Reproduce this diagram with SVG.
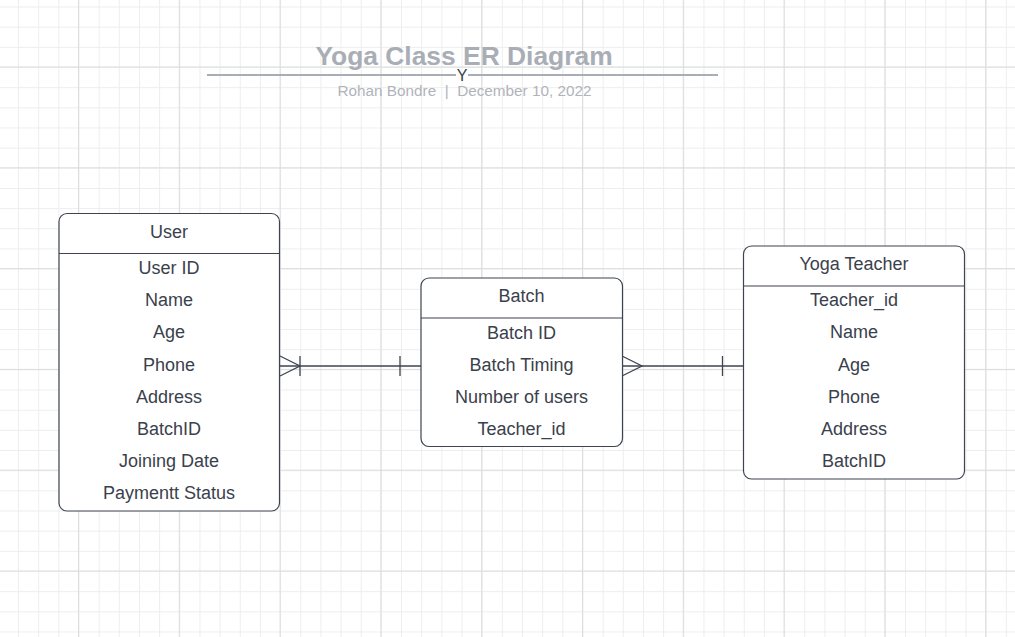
<svg xmlns="http://www.w3.org/2000/svg" width="1015" height="637" viewBox="0 0 1015 637">
<defs>
<pattern id="minor" patternUnits="userSpaceOnUse" x="78.5" y="67" width="20.16" height="20.16">
<path d="M0 0.5H20.16M0.5 0V20.16" fill="none" stroke="#ededed" stroke-width="1"/>
</pattern>
<pattern id="major" patternUnits="userSpaceOnUse" x="78" y="66.5" width="100.8" height="100.8">
<path d="M0 0.5H100.8M0.5 0V100.8" fill="none" stroke="#dcdcdc" stroke-width="1"/>
</pattern>
</defs>
<style>
.box{fill:#ffffff;stroke:#3d4450;stroke-width:1.2}
.div{stroke:#3d4450;stroke-width:1.2}
.t{font-family:"Liberation Sans",Arial,sans-serif;font-size:18px;fill:#3a414c;text-anchor:middle;dominant-baseline:central}
.c{fill:none;stroke:#3d4450;stroke-width:1.3}
</style>
<rect width="1015" height="637" fill="#ffffff"/>
<rect width="1015" height="637" fill="url(#minor)"/>
<rect width="1015" height="637" fill="url(#major)"/>

<g id="title">
<text x="464" y="65" font-family="Liberation Sans,Arial,sans-serif" font-size="26.4" font-weight="bold" fill="#a9aeb6" text-anchor="middle">Yoga Class ER Diagram</text>
<line x1="207" y1="75" x2="456" y2="75" stroke="#a9aeb6" stroke-width="2.2"/>
<line x1="468" y1="75" x2="718" y2="75" stroke="#a9aeb6" stroke-width="2.2"/>
<text x="462" y="80.5" font-family="Liberation Sans,Arial,sans-serif" font-size="16" fill="#3a414c" text-anchor="middle">Y</text>
<text x="464.5" y="96" font-family="Liberation Sans,Arial,sans-serif" font-size="15.3" fill="#b0b4ba" text-anchor="middle" style="white-space:pre">Rohan Bondre  |  December 10, 2022</text>
</g>

<g id="connectors">
<path class="c" d="M280 366H421"/>
<path class="c" d="M280 356L300 366L280 376M300 356V376M400 356V376"/>
<path class="c" d="M622 366H743"/>
<path class="c" d="M622 356L642 366L622 376M722.5 356V376"/>
</g>

<g id="user">
<rect class="box" x="59" y="213.5" width="220.5" height="297.5" rx="8"/>
<line class="div" x1="59" y1="253.5" x2="279.5" y2="253.5"/>
<text class="t" x="169" y="232">User</text>
<text class="t" x="169" y="268">User ID</text>
<text class="t" x="169" y="300">Name</text>
<text class="t" x="169" y="332">Age</text>
<text class="t" x="169" y="364.5">Phone</text>
<text class="t" x="169" y="396.5">Address</text>
<text class="t" x="169" y="428.5">BatchID</text>
<text class="t" x="169" y="461">Joining Date</text>
<text class="t" x="169" y="493">Paymentt Status</text>
</g>

<g id="batch">
<rect class="box" x="421" y="278" width="201.5" height="168.5" rx="8"/>
<line class="div" x1="421" y1="318" x2="622.5" y2="318"/>
<text class="t" x="521.5" y="296">Batch</text>
<text class="t" x="521.5" y="332.5">Batch ID</text>
<text class="t" x="521.5" y="364.5">Batch Timing</text>
<text class="t" x="521.5" y="396.5">Number of users</text>
<text class="t" x="521.5" y="428.5">Teacher_id</text>
</g>

<g id="teacher">
<rect class="box" x="743.5" y="246" width="221" height="233" rx="8"/>
<line class="div" x1="743.5" y1="286" x2="964.5" y2="286"/>
<text class="t" x="854" y="264">Yoga Teacher</text>
<text class="t" x="854" y="300">Teacher_id</text>
<text class="t" x="854" y="332">Name</text>
<text class="t" x="854" y="364.5">Age</text>
<text class="t" x="854" y="396.5">Phone</text>
<text class="t" x="854" y="428.5">Address</text>
<text class="t" x="854" y="461">BatchID</text>
</g>
</svg>
